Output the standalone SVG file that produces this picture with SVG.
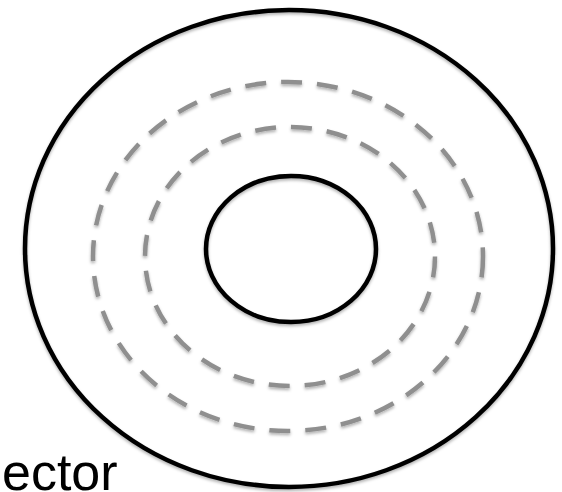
<svg xmlns="http://www.w3.org/2000/svg" width="562" height="492" viewBox="0 0 562 492">
<defs>
<filter id="sh" x="-10%" y="-10%" width="120%" height="120%">
<feDropShadow dx="0" dy="2" stdDeviation="1.5" flood-color="#000" flood-opacity="0.3"/>
</filter>
<style>
.solid{fill:none;stroke:#000;stroke-width:4.5}
.dash{fill:none;stroke:#8f8f8f;stroke-width:4.5;stroke-dasharray:21 15}
.lbl{font-family:"Liberation Sans",Arial,sans-serif;font-size:52px;fill:#000}
</style>
</defs>
<rect width="562" height="492" fill="#fff"/>
<g id="outer" filter="url(#sh)"><ellipse class="solid" cx="289" cy="248.5" rx="264" ry="238.5"/></g>
<g id="ring-outer" filter="url(#sh)"><ellipse class="dash" cx="288" cy="256.5" rx="195" ry="174.5"/></g>
<g id="ring-inner" filter="url(#sh)"><ellipse class="dash" cx="290" cy="256.5" rx="145" ry="129.5"/></g>
<g id="inner" filter="url(#sh)"><ellipse class="solid" cx="291" cy="249" rx="85" ry="73"/></g>
<g id="connectors"></g>
<text class="lbl" x="2" y="490">ector</text>
</svg>
